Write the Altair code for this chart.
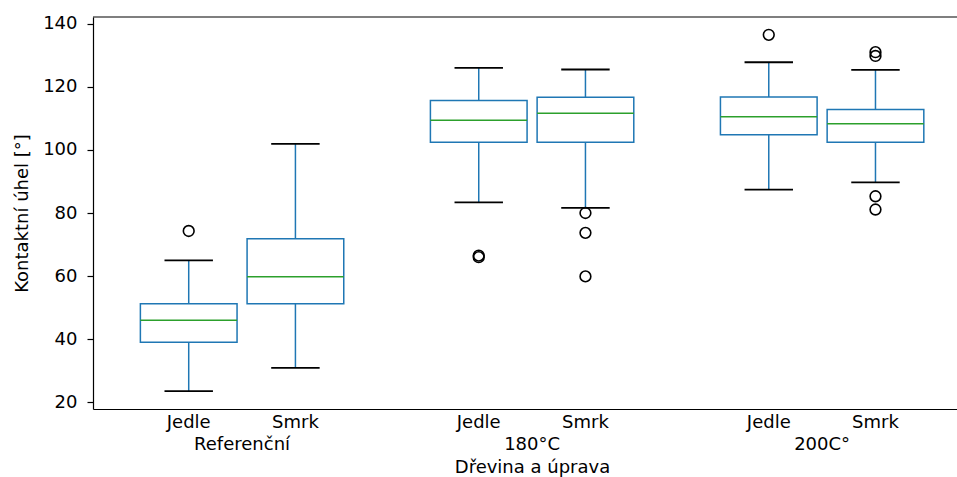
import altair as alt
import pandas as pd

# ---- data ----
groups = ["Referenční", "180°C", "200C°"]
species = ["Jedle", "Smrk"]

box_group = ["Referenční", "Referenční", "180°C", "180°C", "200C°", "200C°"]
box_species = ["Jedle", "Smrk", "Jedle", "Smrk", "Jedle", "Smrk"]
whisker_low = [23.5, 30.9, 83.4, 81.6, 87.4, 89.7]
q1 = [39.0, 51.2, 102.4, 102.4, 104.8, 102.4]
median = [46.0, 59.8, 109.4, 111.6, 110.5, 108.3]
q3 = [51.2, 71.8, 115.7, 116.7, 116.8, 112.8]
whisker_high = [65.0, 101.9, 126.0, 125.5, 127.8, 125.4]

out_group = ["Referenční", "180°C", "180°C", "180°C", "180°C", "180°C",
             "200C°", "200C°", "200C°", "200C°", "200C°"]
out_species = ["Jedle", "Jedle", "Jedle", "Smrk", "Smrk", "Smrk",
               "Jedle", "Smrk", "Smrk", "Smrk", "Smrk"]
out_value = [74.3, 66.0, 66.5, 80.0, 73.7, 59.9,
             136.5, 131.0, 129.8, 85.3, 81.1]

# ---- tables ----
boxes = pd.DataFrame({
    "group": box_group, "species": box_species,
    "wlo": whisker_low, "q1": q1, "med": median, "q3": q3, "whi": whisker_high,
})
boxes["gi"] = [groups.index(g) for g in box_group]
boxes["si"] = [species.index(s) for s in box_species]

outl = pd.DataFrame({"group": out_group, "species": out_species, "value": out_value})
outl["gi"] = [groups.index(g) for g in out_group]
outl["si"] = [species.index(s) for s in out_species]

grp = pd.DataFrame({"group": groups})
grp["gi"] = list(range(len(groups)))

STEP = 2.718
HALF = 0.453
CAP = 0.227
BLUE = "#1f77b4"
GREEN = "#2ca02c"
FONT = "DejaVu Sans"
FS = 18

xscale = alt.Scale(domain=[0.103, 8.2], nice=False, zero=False)
yscale = alt.Scale(domain=[17.85, 142.15], nice=False, zero=False)

xaxis = alt.Axis(labels=False, ticks=False, grid=False, domain=True,
                 title="Dřevina a úprava", titleX=439, titleY=63.5,
                 titleBaseline="alphabetic", titleAlign="center")
yaxis = alt.Axis(values=[20, 40, 60, 80, 100, 120, 140], tickSize=6,
                 labelPadding=10, grid=False, domain=True,
                 title="Kontaktní úhel [°]", titleX=-71, titleY=196,
                 titleBaseline="middle", titleAlign="center", titleAngle=-90)


def X(field):
    return alt.X(field, type="quantitative", scale=xscale, axis=xaxis)


def Y(field):
    return alt.Y(field, type="quantitative", scale=yscale, axis=yaxis)


base = alt.Chart(boxes).transform_calculate(
    pos=f"1 + datum.si + datum.gi * {STEP}",
).transform_calculate(
    lo=f"datum.pos - {HALF}", hi=f"datum.pos + {HALF}",
    clo=f"datum.pos - {CAP}", chi=f"datum.pos + {CAP}",
)

box = base.mark_rect(fill="transparent", stroke=BLUE, strokeWidth=1.5).encode(
    x=X("lo"), x2="hi", y=Y("q1"), y2="q3")

whisk_up = base.mark_rule(color=BLUE, strokeWidth=1.5).encode(
    x=X("pos"), y=Y("q3"), y2="whi")
whisk_dn = base.mark_rule(color=BLUE, strokeWidth=1.5).encode(
    x=X("pos"), y=Y("wlo"), y2="q1")

cap_up = base.mark_rule(color="#000000", strokeWidth=1.8).encode(
    x=X("clo"), x2="chi", y=Y("whi"))
cap_dn = base.mark_rule(color="#000000", strokeWidth=1.8).encode(
    x=X("clo"), x2="chi", y=Y("wlo"))

med = base.mark_rule(color=GREEN, strokeWidth=1.5).encode(
    x=X("lo"), x2="hi", y=Y("med"))

fliers = alt.Chart(outl).transform_calculate(
    pos=f"1 + datum.si + datum.gi * {STEP}",
).mark_point(shape="circle", filled=False, color="#000000", size=115,
             strokeWidth=1.6, opacity=1).encode(
    x=X("pos"), y=Y("value"))

sp_labels = base.mark_text(font=FONT, fontSize=FS, color="#000000",
                           align="center", baseline="alphabetic").encode(
    x=X("pos"), y=alt.value(411), text="species:N")

grp_labels = alt.Chart(grp).transform_calculate(
    pos=f"1.5 + datum.gi * {STEP}",
).mark_text(font=FONT, fontSize=FS, color="#000000",
            align="center", baseline="alphabetic").encode(
    x=X("pos"), y=alt.value(433), text="group:N")

top_border = alt.Chart(pd.DataFrame({"k": [0]})).mark_rule(
    color="#000000", strokeWidth=1.2).encode(y=alt.value(0))

chart = alt.layer(
    box, whisk_up, whisk_dn, cap_up, cap_dn, med, fliers,
    sp_labels, grp_labels, top_border,
).properties(
    width=864, height=392,
    autosize=alt.AutoSizeParams(type="none"),
    padding={"left": 93, "top": 17, "right": 0, "bottom": 68},
).configure_view(strokeWidth=0).configure_axis(
    labelFont=FONT, titleFont=FONT, labelFontSize=FS, titleFontSize=FS,
    labelColor="#000000", titleColor="#000000", titleFontWeight="normal",
    domainColor="#000000", tickColor="#000000", domainWidth=1.2, tickWidth=1.2,
)

chart.save("out.html", embed_options={"renderer": "svg", "actions": False})
